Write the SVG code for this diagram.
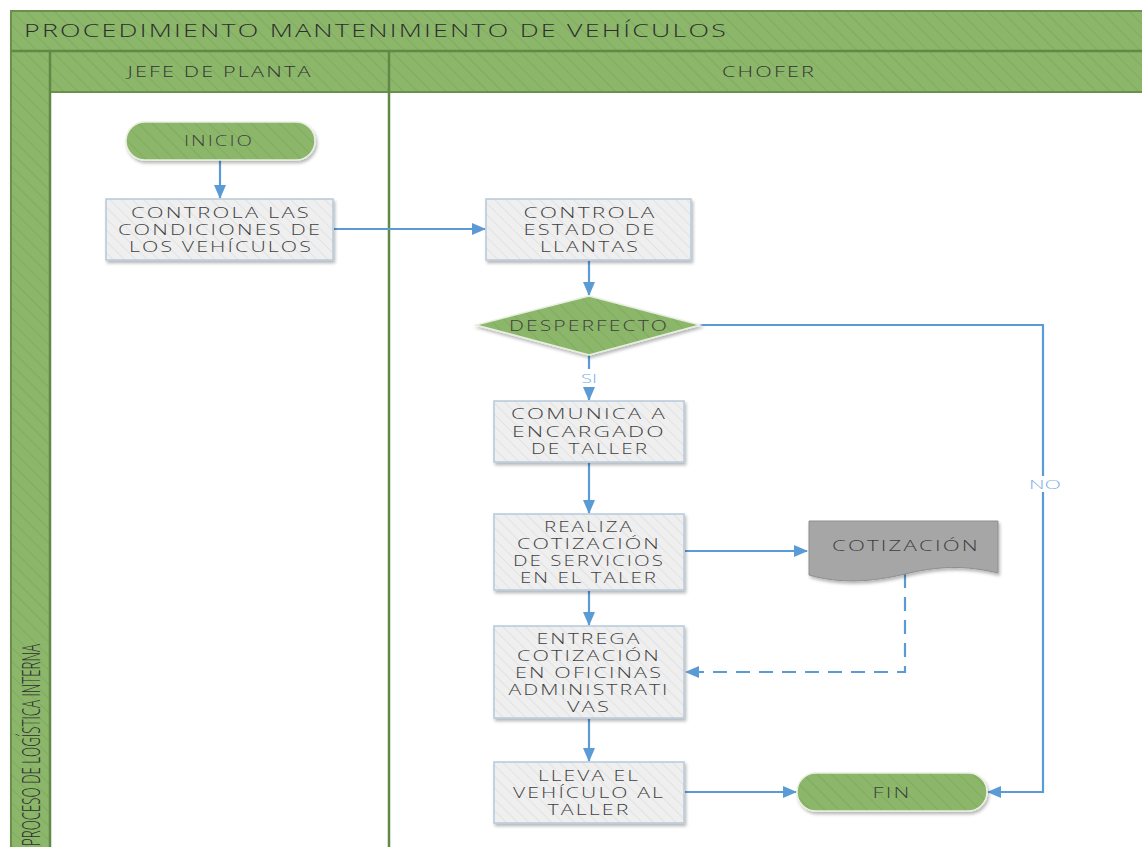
<svg xmlns="http://www.w3.org/2000/svg" width="1142" height="847" viewBox="0 0 1142 847">
  <defs>
    <pattern id="hatchGreen" patternUnits="userSpaceOnUse" width="10" height="10" patternTransform="rotate(-45)">
      <rect width="10" height="10" fill="#8cb76b"/>
      <line x1="0" y1="0" x2="0" y2="10" stroke="#7fac5e" stroke-width="2"/>
    </pattern>
    <pattern id="hatchGray" patternUnits="userSpaceOnUse" width="8" height="8" patternTransform="rotate(-45)">
      <rect width="8" height="8" fill="#efefef"/>
      <line x1="0" y1="0" x2="0" y2="8" stroke="#e2e2e2" stroke-width="2"/>
    </pattern>
    <filter id="shadow" x="-10%" y="-10%" width="130%" height="140%">
      <feDropShadow dx="1.5" dy="2.5" stdDeviation="1.8" flood-color="#000" flood-opacity="0.28"/>
    </filter>
    <marker id="arrow" markerUnits="userSpaceOnUse" markerWidth="14" markerHeight="14" viewBox="0 0 14 14" refX="13" refY="7" orient="auto">
      <path d="M0,1 L14,7 L0,13 Z" fill="#5b9bd5"/>
    </marker>
    <style>
      .lane { fill: url(#hatchGreen); stroke: #6a914c; stroke-width: 2; }
      .sep { stroke: #5f8944; stroke-width: 2.5; fill: none; }
      .proc { fill: url(#hatchGray); stroke: #b7c9dc; stroke-width: 1.5; filter: url(#shadow); }
      .green { fill: url(#hatchGreen); stroke: #e8efe0; stroke-width: 1.5; filter: url(#shadow); }
      .doc { fill: #a6a6a6; stroke: #8e8e8e; stroke-width: 1; filter: url(#shadow); }
      .t { font-family: "Open Sans", "DejaVu Sans", sans-serif; font-weight: 300; font-size: 15px; letter-spacing: 1.5px; fill: #3f3f3f; text-anchor: middle; }
      .hdr { font-family: "Open Sans", "DejaVu Sans", sans-serif; font-weight: 300; font-size: 15px; letter-spacing: 1.5px; fill: #333333; text-anchor: middle; }
      .title { font-family: "Open Sans", "DejaVu Sans", sans-serif; font-weight: 300; font-size: 18px; letter-spacing: 1.5px; fill: #2e2e2e; }
      .side { font-family: "Open Sans", "DejaVu Sans", sans-serif; font-weight: 300; font-size: 25px; fill: #2e2e2e; }
      .edge { stroke: #5b9bd5; stroke-width: 2.2; fill: none; }
      .dash { stroke: #5b9bd5; stroke-width: 2.2; fill: none; stroke-dasharray: 14 9; }
      .lbl { font-family: "Open Sans", "DejaVu Sans", sans-serif; font-weight: 300; font-size: 13px; fill: #7fb0e3; text-anchor: middle; }
    </style>
  </defs>

  <rect width="1142" height="847" fill="#ffffff"/>

  <!-- Pool and lanes -->
  <g id="pool">
    <rect x="11" y="11" width="1145" height="850" fill="#ffffff" stroke="#6a914c" stroke-width="2" filter="url(#shadow)"/>
    <rect class="lane" x="11" y="11" width="1145" height="40"/>
    <text class="title" x="24" y="37" textLength="704" lengthAdjust="spacingAndGlyphs">PROCEDIMIENTO MANTENIMIENTO DE VEHÍCULOS</text>
    <rect class="lane" x="11" y="51" width="39" height="810"/>
    <text class="side" transform="translate(40,846) rotate(-90)" textLength="202" lengthAdjust="spacingAndGlyphs">PROCESO DE LOGÍSTICA INTERNA</text>
  </g>
  <g id="lane-jefe">
    <rect class="lane" x="50" y="51" width="339" height="41"/>
    <text class="hdr" x="220" y="77" textLength="185" lengthAdjust="spacingAndGlyphs">JEFE DE PLANTA</text>
  </g>
  <g id="lane-chofer">
    <rect class="lane" x="389" y="51" width="767" height="41"/>
    <text class="hdr" x="769" y="77" textLength="94" lengthAdjust="spacingAndGlyphs">CHOFER</text>
  </g>
  <line class="sep" x1="389" y1="51" x2="389" y2="850"/>
  <line class="sep" x1="50" y1="51" x2="50" y2="850"/>
  <line class="sep" x1="11" y1="51" x2="1142" y2="51"/>

  <!-- Connectors -->
  <g id="connectors">
    <line class="edge" x1="220" y1="160" x2="220" y2="198" marker-end="url(#arrow)"/>
    <line class="edge" x1="334" y1="229" x2="485" y2="229" marker-end="url(#arrow)"/>
    <line class="edge" x1="589" y1="261" x2="589" y2="295" marker-end="url(#arrow)"/>
    <line class="edge" x1="589" y1="355" x2="589" y2="400" marker-end="url(#arrow)"/>
    <line class="edge" x1="589" y1="463" x2="589" y2="513" marker-end="url(#arrow)"/>
    <line class="edge" x1="685" y1="551" x2="807" y2="551" marker-end="url(#arrow)"/>
    <line class="edge" x1="589" y1="591" x2="589" y2="625" marker-end="url(#arrow)"/>
    <path class="dash" d="M905,574 V672 H686" marker-end="url(#arrow)"/>
    <line class="edge" x1="589" y1="719" x2="589" y2="761" marker-end="url(#arrow)"/>
    <line class="edge" x1="685" y1="792" x2="796" y2="792" marker-end="url(#arrow)"/>
    <path class="edge" d="M700,325 H1043 V792 H988" marker-end="url(#arrow)"/>
    <rect x="580" y="369" width="18" height="18" fill="#ffffff"/>
    <text class="lbl" x="589" y="383" textLength="16" lengthAdjust="spacingAndGlyphs">SI</text>
    <rect x="1028" y="476" width="34" height="16" fill="#ffffff"/>
    <text class="lbl" x="1045" y="489" textLength="32" lengthAdjust="spacingAndGlyphs">NO</text>
  </g>

  <!-- Nodes -->
  <g id="inicio">
    <rect class="green" x="126" y="122" width="189" height="38" rx="19"/>
    <text class="t" x="219" y="146" textLength="70" lengthAdjust="spacingAndGlyphs">INICIO</text>
  </g>
  <g id="controla-condiciones">
    <rect class="proc" x="106" y="199" width="227" height="61"/>
    <text class="t" x="221" y="217.5" textLength="180" lengthAdjust="spacingAndGlyphs">CONTROLA LAS</text>
    <text class="t" x="220" y="234.5" textLength="204" lengthAdjust="spacingAndGlyphs">CONDICIONES DE</text>
    <text class="t" x="221" y="251.5" textLength="184" lengthAdjust="spacingAndGlyphs">LOS VEHÍCULOS</text>
  </g>
  <g id="controla-llantas">
    <rect class="proc" x="486" y="199" width="205" height="61"/>
    <text class="t" x="590" y="217.5" textLength="133" lengthAdjust="spacingAndGlyphs">CONTROLA</text>
    <text class="t" x="590" y="234.5" textLength="133" lengthAdjust="spacingAndGlyphs">ESTADO DE</text>
    <text class="t" x="590" y="251.5" textLength="100" lengthAdjust="spacingAndGlyphs">LLANTAS</text>
  </g>
  <g id="desperfecto">
    <polygon class="green" points="589,296 700,325 589,355 476,325"/>
    <text class="t" x="589" y="330.5" textLength="160" lengthAdjust="spacingAndGlyphs">DESPERFECTO</text>
  </g>
  <g id="comunica">
    <rect class="proc" x="494" y="401" width="190" height="61"/>
    <text class="t" x="589" y="419" textLength="156" lengthAdjust="spacingAndGlyphs">COMUNICA A</text>
    <text class="t" x="589" y="436.5" textLength="154" lengthAdjust="spacingAndGlyphs">ENCARGADO</text>
    <text class="t" x="590" y="453.5" textLength="118" lengthAdjust="spacingAndGlyphs">DE TALLER</text>
  </g>
  <g id="realiza-cotizacion">
    <rect class="proc" x="494" y="514" width="190" height="76"/>
    <text class="t" x="589" y="531.5" textLength="90" lengthAdjust="spacingAndGlyphs">REALIZA</text>
    <text class="t" x="589" y="548.5" textLength="144" lengthAdjust="spacingAndGlyphs">COTIZACIÓN</text>
    <text class="t" x="589" y="565.5" textLength="152" lengthAdjust="spacingAndGlyphs">DE SERVICIOS</text>
    <text class="t" x="589" y="582.5" textLength="138" lengthAdjust="spacingAndGlyphs">EN EL TALER</text>
  </g>
  <g id="cotizacion-doc">
    <path class="doc" d="M809,521 H998 V573 C965,565 938,566 905,574 C872,582 840,584 809,575 Z"/>
    <text class="t" x="906" y="550.5" textLength="148" lengthAdjust="spacingAndGlyphs">COTIZACIÓN</text>
  </g>
  <g id="entrega-cotizacion">
    <rect class="proc" x="494" y="626" width="190" height="92"/>
    <text class="t" x="589" y="643.5" textLength="105" lengthAdjust="spacingAndGlyphs">ENTREGA</text>
    <text class="t" x="589" y="660.5" textLength="144" lengthAdjust="spacingAndGlyphs">COTIZACIÓN</text>
    <text class="t" x="589" y="677.5" textLength="148" lengthAdjust="spacingAndGlyphs">EN OFICINAS</text>
    <text class="t" x="589" y="694.5" textLength="161" lengthAdjust="spacingAndGlyphs">ADMINISTRATI</text>
    <text class="t" x="589" y="711.5" textLength="44" lengthAdjust="spacingAndGlyphs">VAS</text>
  </g>
  <g id="lleva-vehiculo">
    <rect class="proc" x="494" y="762" width="190" height="61"/>
    <text class="t" x="589" y="780.5" textLength="102" lengthAdjust="spacingAndGlyphs">LLEVA EL</text>
    <text class="t" x="589" y="797.5" textLength="152" lengthAdjust="spacingAndGlyphs">VEHÍCULO AL</text>
    <text class="t" x="589" y="814.5" textLength="83" lengthAdjust="spacingAndGlyphs">TALLER</text>
  </g>
  <g id="fin">
    <rect class="green" x="797" y="773" width="190" height="38" rx="19"/>
    <text class="t" x="892" y="797.5" textLength="39" lengthAdjust="spacingAndGlyphs">FIN</text>
  </g>
</svg>
